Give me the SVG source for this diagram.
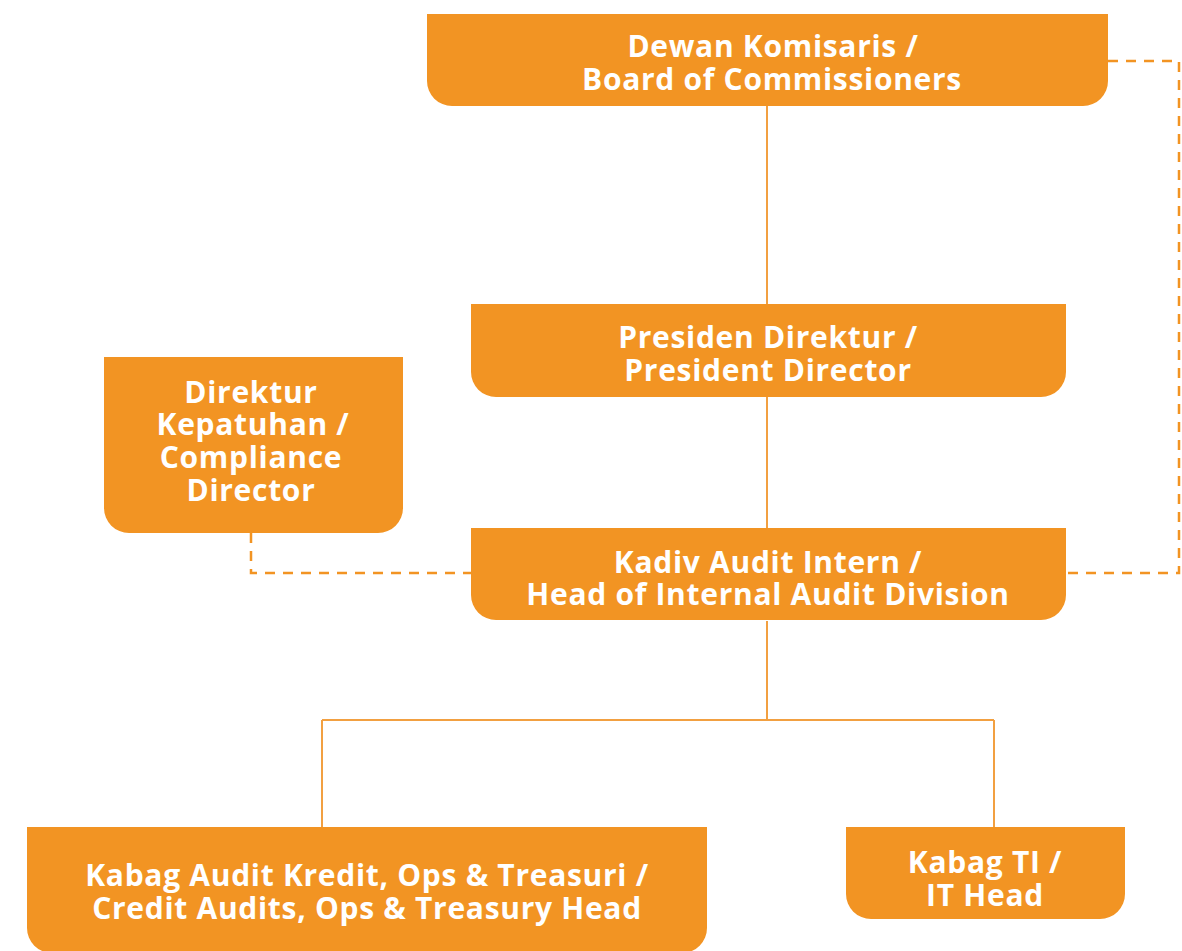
<svg xmlns="http://www.w3.org/2000/svg" width="1182" height="951" viewBox="0 0 1182 951">
<style>
.box{fill:#F29423;}
.t{fill:#ffffff;font-family:"Open Sans","Liberation Sans",sans-serif;font-weight:bold;font-size:30px;text-anchor:middle;letter-spacing:0.7px;}
.solid{fill:none;stroke:#F2A041;stroke-width:2;}
.dash{fill:none;stroke:#F29423;stroke-width:2.5;stroke-dasharray:10 8;}
</style>
<rect width="1182" height="951" fill="#ffffff"/>
<g id="connectors">
<path class="solid" d="M767 106V304M767 397V528M767 621V720M322 720H994M322 720V827M994 720V827"/>
<path class="dash" d="M1108 61H1179V573H1066"/>
<path class="dash" d="M251 533V573H471"/>
</g>
<g id="dewan">
<path class="box" d="M427 14H1108V81A25 25 0 0 1 1083 106H452A25 25 0 0 1 427 81Z"/>
<text class="t"><tspan x="773" y="57">Dewan Komisaris /</tspan><tspan x="772" y="90">Board of Commissioners</tspan></text>
</g>
<g id="presiden">
<path class="box" d="M471 304H1066V372A25 25 0 0 1 1041 397H496A25 25 0 0 1 471 372Z"/>
<text class="t"><tspan x="768" y="348">Presiden Direktur /</tspan><tspan x="768" y="381">President Director</tspan></text>
</g>
<g id="kepatuhan">
<path class="box" d="M104 357H403V508A25 25 0 0 1 378 533H129A25 25 0 0 1 104 508Z"/>
<text class="t"><tspan x="251" y="403">Direktur</tspan><tspan x="253" y="435">Kepatuhan /</tspan><tspan x="251" y="468">Compliance</tspan><tspan x="251" y="501">Director</tspan></text>
</g>
<g id="kadiv">
<path class="box" d="M471 528H1066V595A25 25 0 0 1 1041 620H496A25 25 0 0 1 471 595Z"/>
<text class="t"><tspan x="768" y="573">Kadiv Audit Intern /</tspan><tspan x="768" y="605">Head of Internal Audit Division</tspan></text>
</g>
<g id="kabag-audit">
<path class="box" d="M27 827H707V928A25 25 0 0 1 682 953H52A25 25 0 0 1 27 928Z"/>
<text class="t"><tspan x="367" y="886">Kabag Audit Kredit, Ops &amp; Treasuri /</tspan><tspan x="367" y="919">Credit Audits, Ops &amp; Treasury Head</tspan></text>
</g>
<g id="kabag-ti">
<path class="box" d="M846 827H1125V894A25 25 0 0 1 1100 919H871A25 25 0 0 1 846 894Z"/>
<text class="t"><tspan x="985" y="873">Kabag TI /</tspan><tspan x="985" y="906">IT Head</tspan></text>
</g>
</svg>
